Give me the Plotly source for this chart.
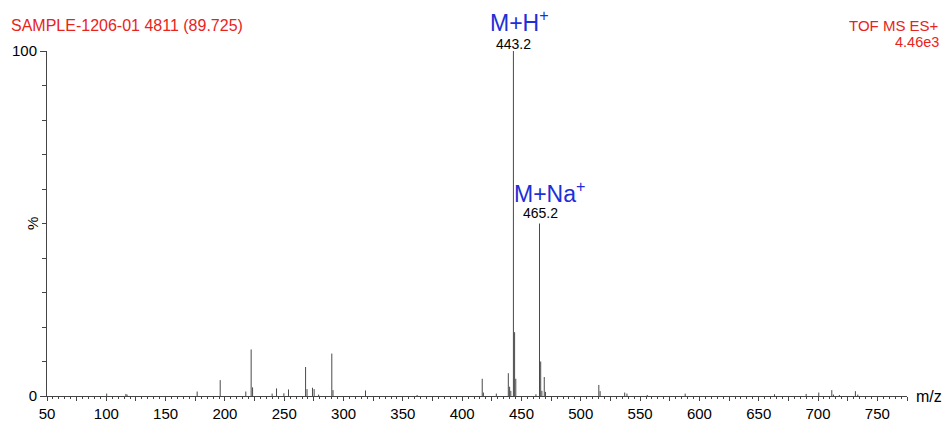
import plotly.graph_objects as go

# m/z values and relative intensities (%)
mz = [100.3, 116.5, 117.5, 176.6, 196.0, 217.6, 222.1, 223.3, 239.8, 243.5, 249.7, 253.6,
      268.0, 269.2, 273.8, 275.2, 279.0, 290.1, 291.1, 318.5, 362.0, 416.9, 417.9, 428.8,
      438.9, 440.0, 441.0, 443.2, 444.2, 445.2, 462.2, 465.2, 466.2, 467.2, 469.2, 470.2,
      515.2, 516.3, 537.0, 538.9, 556.0, 588.0, 663.3, 690.0, 700.6, 711.6, 713.0, 718.0,
      731.5, 733.5]
intensity = [0.7, 0.6, 0.4, 1.3, 4.6, 1.3, 13.5, 2.5, 0.7, 2.2, 0.8, 1.9,
             8.4, 2.0, 2.4, 2.0, 0.4, 12.3, 1.7, 1.6, 0.3, 5.0, 1.0, 0.7,
             6.6, 2.7, 1.5, 100.0, 18.5, 5.0, 0.5, 50.0, 10.0, 1.5, 5.5, 1.2,
             3.2, 1.4, 1.0, 0.7, 0.3, 0.7, 0.5, 0.6, 1.0, 1.7, 0.4, 0.3,
             1.4, 0.4]

x_major = [50, 75, 100, 125, 150, 175, 200, 225, 250, 275, 300, 325, 350, 375, 400, 425,
           450, 475, 500, 525, 550, 575, 600, 625, 650, 675, 700, 725, 750, 775]
x_labels = [str(v) if v % 50 == 0 else "" for v in x_major]

RED = "#e8231c"
BLUE = "#1c2fd8"
FONT = "Liberation Sans"

xs, ys = [], []
for m, h in zip(mz, intensity):
    xs += [m, m, None]
    ys += [0, h, None]

fig = go.Figure()
fig.add_trace(go.Scatter(x=xs, y=ys, mode="lines",
                         line=dict(color="#4a4a4a", width=1),
                         hoverinfo="skip", showlegend=False, cliponaxis=False))

fig.update_layout(
    width=949, height=421,
    margin=dict(l=47, r=42, t=51, b=25),
    paper_bgcolor="white", plot_bgcolor="white",
    font=dict(family=FONT, size=14, color="black"),
    showlegend=False,
    xaxis=dict(range=[50, 775], showgrid=False, zeroline=False, automargin=False,
               showline=True, linecolor="#444", linewidth=1,
               tickmode="array", tickvals=x_major, ticktext=x_labels,
               ticks="outside", ticklen=4, tickcolor="#444", tickwidth=1,
               tickfont=dict(size=15, family=FONT),
               minor=dict(dtick=5, tick0=50, ticks="outside", ticklen=2,
                          tickcolor="#444", tickwidth=1, showgrid=False)),
    yaxis=dict(range=[0, 100], showgrid=False, zeroline=False, automargin=False,
               showline=True, linecolor="#444", linewidth=1,
               tickmode="array", tickvals=[0, 100], ticktext=["0", "100"],
               ticks="outside", ticklen=6, tickcolor="#444", tickwidth=1,
               tickfont=dict(size=15, family=FONT),
               minor=dict(dtick=10, tick0=0, ticks="outside", ticklen=4,
                          tickcolor="#444", tickwidth=1, showgrid=False)),
)

W, H = 860.0, 345.0
def px(xp):
    return (xp - 47) / W
def py(yp):
    return (396 - yp) / H

ann = [
    dict(text="SAMPLE-1206-01 4811 (89.725)", x=px(9), y=py(26), xanchor="left",
         yanchor="middle", font=dict(color=RED, size=16)),
    dict(text="TOF MS ES+", x=px(941), y=py(26), xanchor="right", yanchor="middle",
         font=dict(color=RED, size=15)),
    dict(text="4.46e3", x=px(941), y=py(42), xanchor="right", yanchor="middle",
         font=dict(color=RED, size=14.5)),
    dict(text="m/z", x=px(914), y=py(396), xanchor="left", yanchor="middle",
         font=dict(color="black", size=16)),
    dict(text="%", x=px(33), y=py(224), xanchor="center", yanchor="middle",
         textangle=-90, font=dict(color="black", size=15)),
    dict(text="M+H<sup>+</sup>", x=px(519), y=py(21), xanchor="center", yanchor="middle",
         font=dict(color=BLUE, size=23)),
    dict(text="443.2", x=px(513), y=py(44), xanchor="center", yanchor="middle",
         font=dict(color="black", size=14)),
    dict(text="M+Na<sup>+</sup>", x=px(549), y=py(192), xanchor="center", yanchor="middle",
         font=dict(color=BLUE, size=23)),
    dict(text="465.2", x=px(540), y=py(213), xanchor="center", yanchor="middle",
         font=dict(color="black", size=14)),
]
for a in ann:
    a.update(xref="paper", yref="paper", showarrow=False)
fig.update_layout(annotations=ann)

fig.write_html("out.html")
